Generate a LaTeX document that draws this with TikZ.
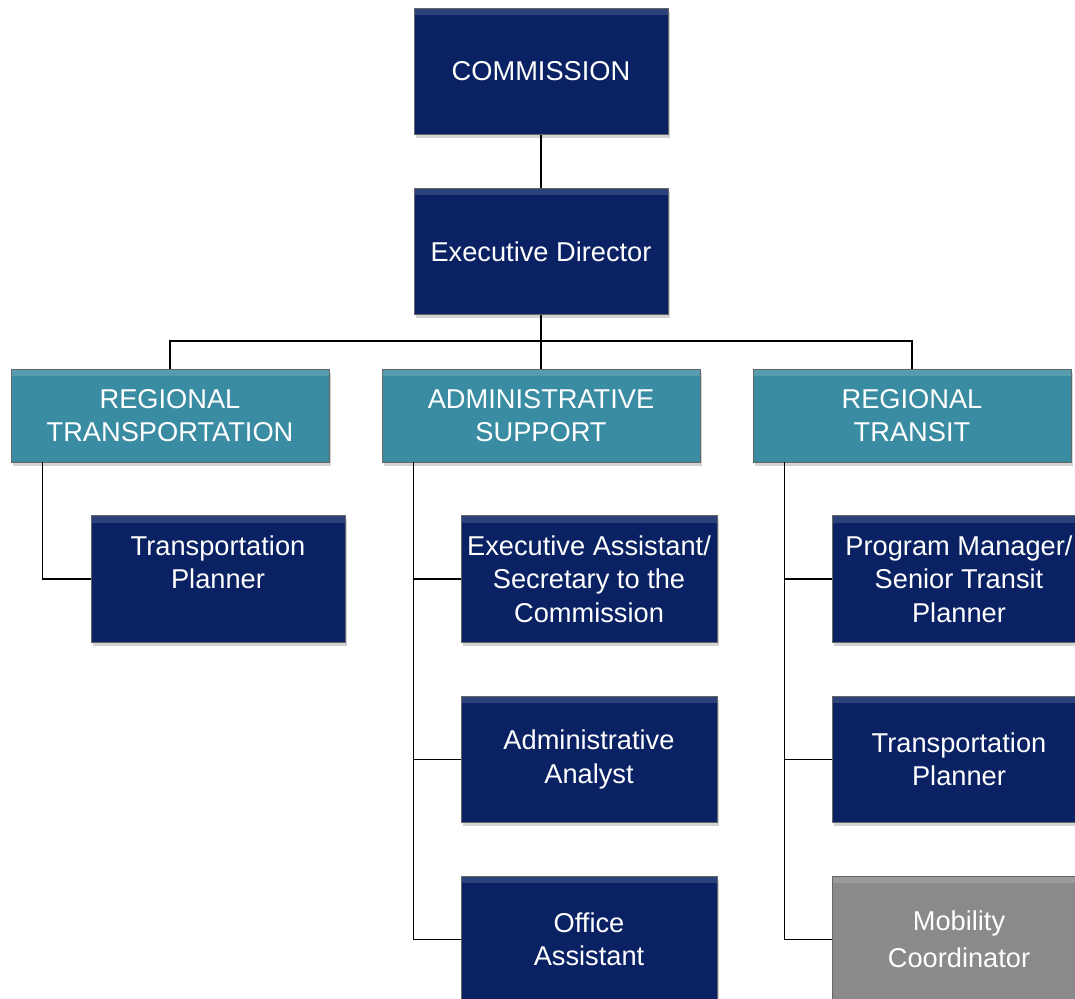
\documentclass[tikz,border=0pt]{standalone}
\usepackage{fontspec}
\setmainfont{Liberation Sans}
\usetikzlibrary{shadows}
\definecolor{navyblue}{RGB}{10,34,100}
\definecolor{tealblue}{RGB}{58,140,163}
\definecolor{greybox}{RGB}{138,138,138}
\begin{document}
\begin{tikzpicture}[
        box/.style={rectangle, draw=black!60, line width=0.4pt, text=white, align=center,
            font=\fontsize{15.5}{19}\selectfont, minimum width=5.08cm, minimum height=2.53cm,
            inner sep=1pt, drop shadow={shadow xshift=1pt, shadow yshift=-2pt, opacity=0.35},
            path picture={\fill[white, opacity=0.14] (path picture bounding box.north west)
                rectangle ([yshift=-4pt]path picture bounding box.north east);}},
        navybox/.style={box, fill=navyblue},
        tealbox/.style={box, fill=tealblue, minimum width=6.36cm, minimum height=1.86cm},
        greybox/.style={box, fill=greybox, font=\fontsize{15.5}{21}\selectfont},
        link/.style={draw=black, line width=0.8pt}
    ]
        \useasboundingbox (0,0) rectangle (21.5,-19.98);
        \clip (0,0) rectangle (21.5,-19.98);

        % Top
        \node[navybox] (comm) at (10.82,-1.43) {COMMISSION};
        \node[navybox] (exec) at (10.82,-5.03) {Executive Director};

        % Departments
        \node[tealbox] (regtr) at (3.40,-8.31) {REGIONAL\\TRANSPORTATION};
        \node[tealbox] (adm) at (10.82,-8.31) {ADMINISTRATIVE\\SUPPORT};
        \node[tealbox] (regtrans) at (18.24,-8.31) {REGIONAL\\TRANSIT};

        % Regional transportation staff
        \node[navybox] (tp1) at (4.36,-11.58) {Transportation\\Planner\\\mbox{}};

        % Administrative support staff
        \node[navybox, minimum width=5.12cm] (ea) at (11.78,-11.58) {Executive Assistant/\\Secretary to the\\Commission};
        \node[navybox, minimum width=5.12cm] (aa) at (11.78,-15.19) {Administrative\\Analyst};
        \node[navybox, minimum width=5.12cm] (oa) at (11.78,-18.79) {Office\\Assistant};

        % Regional transit staff
        \node[navybox] (pm) at (19.18,-11.58) {Program Manager/\\Senior Transit\\Planner};
        \node[navybox] (tp2) at (19.18,-15.19) {Transportation\\Planner};
        \node[greybox] (mc) at (19.18,-18.79) {Mobility\\Coordinator};

        \coordinate (bar) at (10.82,-6.82);

        \draw[link] (comm) -- (exec);
        \draw[link] (exec) -- (bar);
        \draw[link] (bar) -| (regtr);
        \draw[link] (bar) -- (adm);
        \draw[link] (bar) -| (regtrans);
        \draw[link] ([xshift=0.64cm]regtr.south west) |- (tp1);
        \foreach \staff in {ea, aa, oa}
            \draw[link] ([xshift=0.64cm]adm.south west) |- (\staff);
        \foreach \staff in {pm, tp2, mc}
            \draw[link] ([xshift=0.64cm]regtrans.south west) |- (\staff);
    \end{tikzpicture}
\end{document}
